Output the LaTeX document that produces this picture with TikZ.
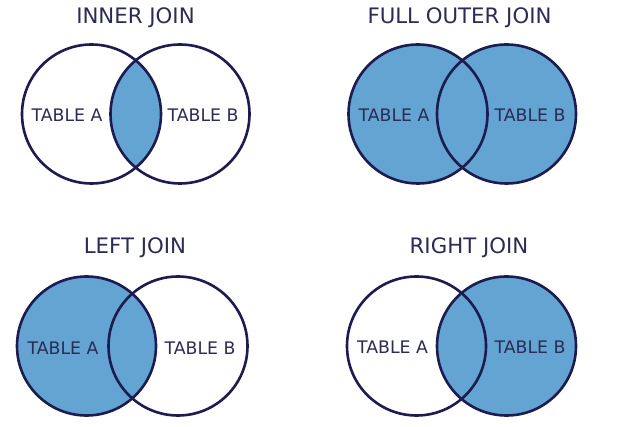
\documentclass[tikz,border=0pt]{standalone}
\usepackage{fontspec}
\setmainfont{DejaVu Sans}
\definecolor{navy}{HTML}{1C1C50}
\definecolor{txt}{HTML}{2B2B55}
\definecolor{venn}{HTML}{63A4D2}
\begin{document}
\begin{tikzpicture}[x=1pt,y=-1pt,
  set/.style={circle,draw=navy,line width=2.6pt,minimum size=139pt,inner sep=0pt},
  title/.style={text=txt,font=\fontsize{21.3}{24}\selectfont,inner sep=0pt},
  lbl/.style={text=txt,font=\fontsize{17.3}{20}\selectfont,inner sep=0pt}]
\useasboundingbox (0,0) rectangle (618,427);
\fill[white] (0,0) rectangle (618,427);
% INNER JOIN
\coordinate (ia) at (91.5,114);
\coordinate (ib) at (180,114);
\begin{scope}
  \clip (ia) circle (69.5);
  \fill[venn] (ib) circle (69.5);
\end{scope}
\node[set] (ca1) at (ia) {};
\node[set] (cb1) at (ib) {};
\node[title] (t1) at (135.5,18) {INNER JOIN};
\node[lbl] (la1) at (67,115) {TABLE A};
\node[lbl] (lb1) at (203,115) {TABLE B};
% FULL OUTER JOIN
\coordinate (fa) at (418,114);
\coordinate (fb) at (506.5,114);
\fill[venn] (fa) circle (69.5) (fb) circle (69.5);
\node[set] (ca2) at (fa) {};
\node[set] (cb2) at (fb) {};
\node[title] (t2) at (459.5,18) {FULL OUTER JOIN};
\node[lbl] (la2) at (394,115) {TABLE A};
\node[lbl] (lb2) at (530,115) {TABLE B};
% LEFT JOIN
\coordinate (la) at (86.5,346);
\coordinate (lb) at (178,346);
\fill[venn] (la) circle (69.5);
\node[set] (ca3) at (la) {};
\node[set] (cb3) at (lb) {};
\node[title] (t3) at (135,248) {LEFT JOIN};
\node[lbl] (la3) at (63,348) {TABLE A};
\node[lbl] (lb3) at (200,348) {TABLE B};
% RIGHT JOIN
\coordinate (ra) at (416.5,346);
\coordinate (rb) at (506.5,346);
\fill[venn] (rb) circle (69.5);
\node[set] (ca4) at (ra) {};
\node[set] (cb4) at (rb) {};
\node[title] (t4) at (469,248) {RIGHT JOIN};
\node[lbl] (la4) at (392.5,347) {TABLE A};
\node[lbl] (lb4) at (530,347) {TABLE B};
\end{tikzpicture}
\end{document}
